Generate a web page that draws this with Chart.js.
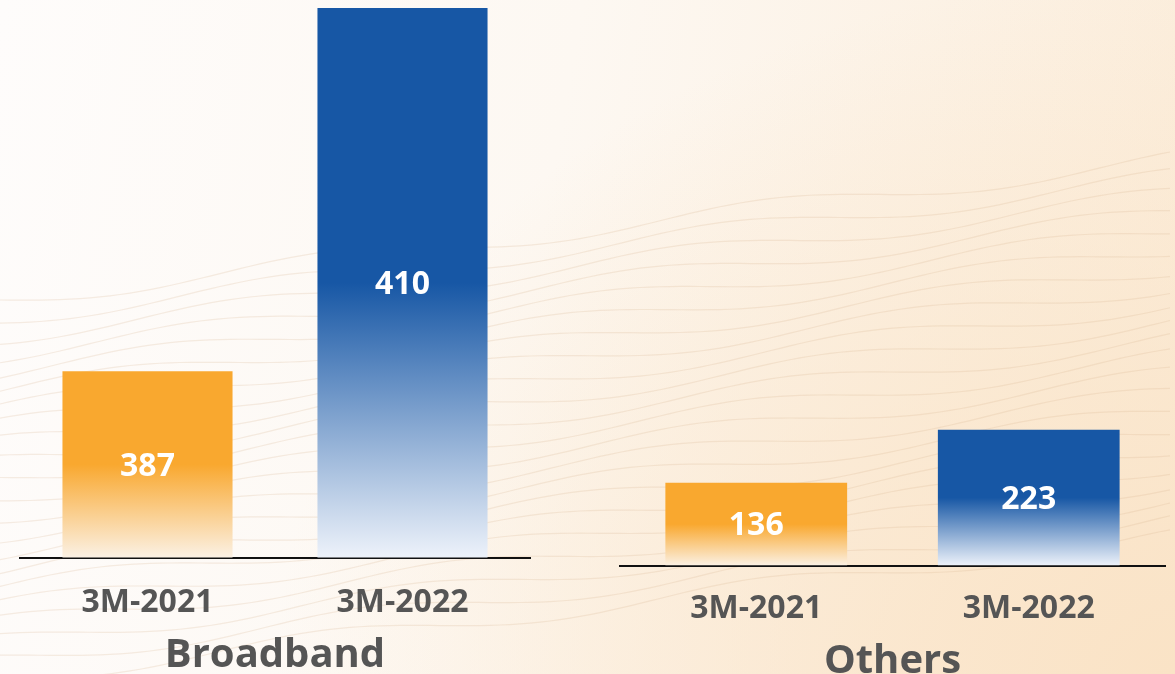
<!DOCTYPE html>
<html>
<head>
<meta charset="utf-8">
<script src="https://cdn.jsdelivr.net/npm/chart.js@4.4.0/dist/chart.umd.min.js"></script>
<style>
  html, body { margin: 0; padding: 0; width: 1175px; height: 674px; overflow: hidden; }
  body {
    position: relative;
    background:
      radial-gradient(ellipse 900px 700px at 1175px 674px, #fae3c6 0%, rgba(250,227,198,0) 100%),
      linear-gradient(100deg, #fefcfb 0%, #fdf8f2 45%, #fbecd9 100%);
  }
  #waves { position: absolute; left: 0; top: 0; }
  .panel { position: absolute; top: 0; height: 700px; }
  #left { left: 0; width: 580px; }
  #right { left: 590px; width: 585px; }
</style>
</head>
<body>
<canvas id="waves" width="1175" height="674"></canvas>
<div class="panel" id="left"><canvas id="broadbandChart"></canvas></div>
<div class="panel" id="right"><canvas id="othersChart"></canvas></div>
<script>
const periods = ['3M-2021', '3M-2022'];
const broadbandValues = [387, 410];
const othersValues = [136, 223];
const segmentTitles = ['Broadband', 'Others'];

const solidColors = ['#f9a82f', '#1757a5'];
const fadeColors = ['#fbf1e4', '#edf2fa'];
const fontFamily = '"Open Sans", "DejaVu Sans", sans-serif';

// soft wavy background lines
(() => {
  const c = document.getElementById('waves').getContext('2d');
  c.lineWidth = 1.2;
  for (let k = 0; k < 22; k++) {
    const y0 = 300 + k * 18;
    c.strokeStyle = 'rgba(214, 178, 140, 0.22)';
    c.beginPath();
    for (let x = 0; x <= 1175; x += 10) {
      const y = y0 + 9 * Math.sin(x / 70 + k * 0.6) - x * 0.12;
      if (x === 0) c.moveTo(x, y); else c.lineTo(x, y);
    }
    c.stroke();
  }
})();

function barFill(ctx) {
  const chart = ctx.chart;
  const i = ctx.dataIndex;
  if (!chart.chartArea || !chart.scales.y) return solidColors[i];
  const y = chart.scales.y;
  const top = y.getPixelForValue(ctx.raw);
  const bottom = y.getPixelForValue(y.min);
  const g = chart.ctx.createLinearGradient(0, top, 0, bottom);
  g.addColorStop(0, solidColors[i]);
  g.addColorStop(0.5, solidColors[i]);
  g.addColorStop(1, fadeColors[i]);
  return g;
}

const valueLabels = {
  id: 'valueLabels',
  afterDatasetsDraw(chart) {
    const { ctx, chartArea } = chart;
    const meta = chart.getDatasetMeta(0);
    ctx.save();
    ctx.font = '700 32px ' + fontFamily;
    ctx.fillStyle = '#ffffff';
    ctx.textAlign = 'center';
    ctx.textBaseline = 'middle';
    meta.data.forEach((bar, i) => {
      const base = Math.min(bar.base, chartArea.bottom);
      ctx.fillText(String(chart.data.datasets[0].data[i]), bar.x, (bar.y + base) / 2 + 2);
    });
    ctx.restore();
  }
};

function makeChart(id, values, title, yMin, yMax, padding, tickPad, titlePad) {
  return new Chart(document.getElementById(id), {
    type: 'bar',
    data: {
      labels: periods,
      datasets: [{
        data: values,
        backgroundColor: barFill,
        borderWidth: 0,
        categoryPercentage: 1,
        barPercentage: 0.667
      }]
    },
    options: {
      responsive: true,
      maintainAspectRatio: false,
      animation: false,
      layout: { padding },
      plugins: { legend: { display: false }, tooltip: { enabled: false } },
      scales: {
        y: { display: false, min: yMin, max: yMax },
        x: {
          grid: { display: false, drawTicks: false },
          border: { display: true, color: '#111111', width: 2 },
          ticks: { color: '#555555', padding: tickPad, font: { family: fontFamily, size: 32, weight: '700' } },
          title: {
            display: true,
            text: title,
            color: '#555555',
            padding: { top: titlePad, bottom: 0 },
            font: { family: fontFamily, size: 40, weight: '700' }
          }
        }
      }
    },
    plugins: [valueLabels]
  });
}

makeChart('broadbandChart', broadbandValues, segmentTitles[0], 375.2, 410,
  { left: 20, right: 50, top: 8, bottom: 20 }, 26, -16);
makeChart('othersChart', othersValues, segmentTitles[1], 0, 915,
  { left: 30, right: 10, top: 8, bottom: 14 }, 24, -14);
</script>
</body>
</html>
